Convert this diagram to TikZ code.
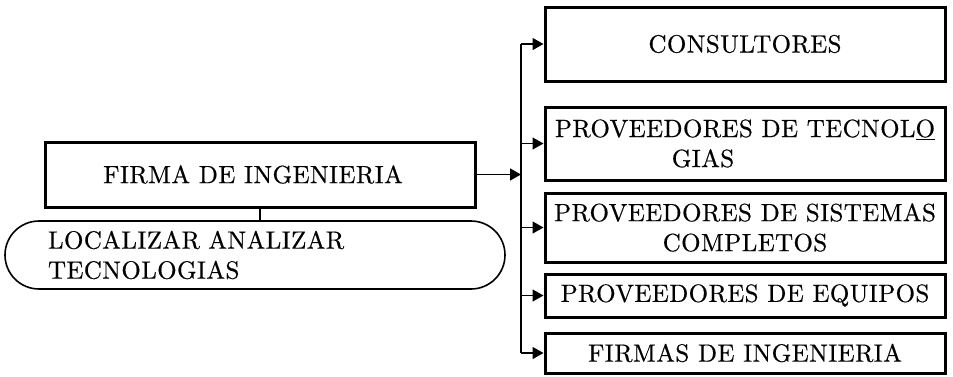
\documentclass[tikz,border=0pt]{standalone}
\usepackage{fontspec}
\setmainfont{lmroman10-regular}[Extension=.otf, BoldFont=lmroman10-bold]
\usetikzlibrary{arrows.meta}
\begin{document}
\begin{tikzpicture}[x=1pt,y=-1pt,
  txt/.style={font=\fontsize{25}{30}\selectfont\addfontfeatures{LetterSpace=1.5,FakeBold=0.5}},
  box/.style={draw, line width=3pt, txt, inner sep=0pt, align=center},
  pill/.style={draw, line width=1.6pt, rounded corners=34pt, txt, inner ysep=0pt, inner xsep=43pt, align=left},
  wire/.style={line width=1.5pt},
  arr/.style={wire, -{Triangle[length=11pt,width=12pt]}}]
\useasboundingbox (0,0) rectangle (953,376);

% left block
\node[box, minimum width=430, minimum height=65] (firma) at (260,174.5)
  {\raisebox{-3pt}{FIRMA DE INGENIERIA}\hspace*{14pt}};
\node[pill, text width=414, minimum height=68] (loc) at (255,255)
  {LOCALIZAR ANALIZAR\\TECNOLOGIAS};

% right column
\node[box, minimum width=400, minimum height=74] (cons) at (745,44) {CONSULTORES};
\node[box, minimum width=400, minimum height=73] (tec) at (745,143.5)
  {PROVEEDORES DE TECNOL\underline{O}\\GIAS\hspace*{84pt}};
\node[box, minimum width=400, minimum height=69] (sis) at (745,227.5)
  {PROVEEDORES DE SISTEMAS\\COMPLETOS};
\node[box, minimum width=400, minimum height=43] (equ) at (745,295.5) {PROVEEDORES DE EQUIPOS};
\node[box, minimum width=400, minimum height=40] (fir) at (745,353) {FIRMAS DE INGENIERIA};

% distribution bus
\coordinate (bus) at (521,0);
\draw[wire] (firma.south) -- (firma.south |- loc.north);
\draw[arr] (firma.east) -- (firma.east -| bus);
\draw[wire] (cons.west -| bus) -- (fir.west -| bus);
\foreach \n in {cons,tec,sis,equ,fir}
  \draw[arr] (\n.west -| bus) -- (\n.west);
\end{tikzpicture}
\end{document}
